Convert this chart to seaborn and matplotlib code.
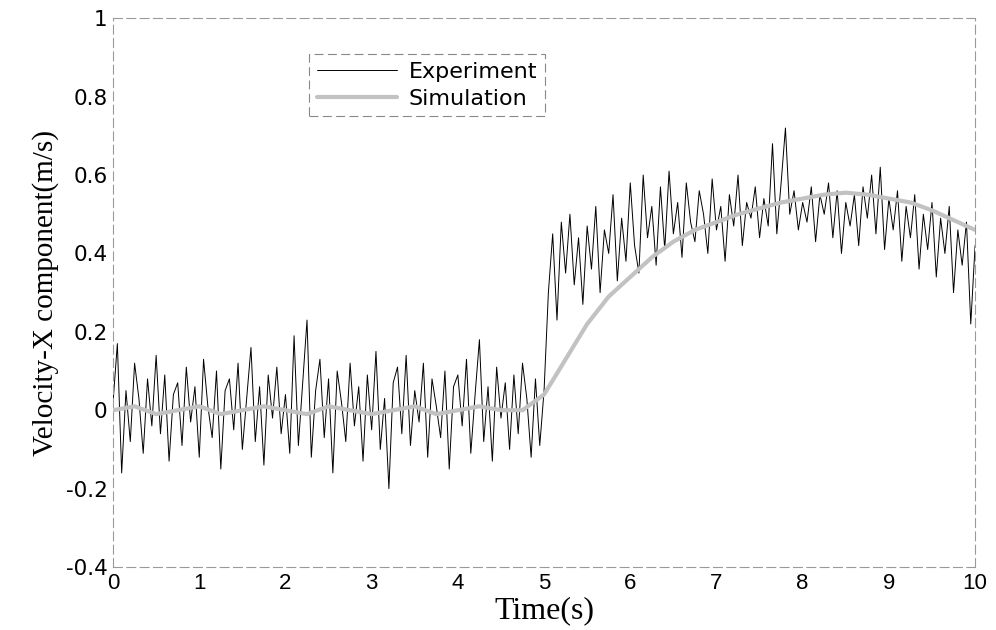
import numpy as np
import pandas as pd
import matplotlib
matplotlib.use("Agg")
from matplotlib import pyplot as plt
import seaborn as sns

# measured velocity, sampled every 0.05 s from 0 to 10 s
exp_before = [
    0.02, 0.17, -0.16, 0.05, -0.08, 0.12, 0.03, -0.11, 0.08, -0.04,
    0.14, -0.06, 0.09, -0.13, 0.04, 0.07, -0.09, 0.11, -0.03, 0.06,
    -0.12, 0.13, 0.01, -0.07, 0.10, -0.15, 0.05, 0.08, -0.05, 0.12,
    -0.10, 0.03, 0.16, -0.08, 0.06, -0.14, 0.09, -0.02, 0.11, -0.06,
    0.04, -0.11, 0.19, -0.09, 0.07, 0.23, -0.12, 0.05, 0.13, -0.07,
    0.08, -0.16, 0.10, 0.02, -0.08, 0.12, -0.04, 0.06, -0.13, 0.09,
    -0.05, 0.15, -0.10, 0.03, -0.20, 0.07, 0.11, -0.06, 0.14, -0.09,
    0.05, -0.03, 0.12, -0.12, 0.08, 0.01, -0.07, 0.10, -0.15, 0.06,
    0.09, -0.04, 0.13, -0.11, 0.04, 0.18, -0.08, 0.06, -0.13, 0.11,
    -0.02, 0.07, -0.10, 0.09, -0.06, 0.12, 0.03, -0.12, 0.08, -0.09,
]
exp_after = [
    0.05, 0.30, 0.45, 0.23, 0.48, 0.35, 0.50, 0.32, 0.44, 0.27, 0.47,
    0.36, 0.52, 0.30, 0.46, 0.40, 0.55, 0.33, 0.49, 0.38, 0.58,
    0.42, 0.35, 0.60, 0.44, 0.52, 0.37, 0.57, 0.41, 0.61, 0.45,
    0.53, 0.39, 0.58, 0.48, 0.43, 0.56, 0.50, 0.40, 0.59, 0.46,
    0.52, 0.38, 0.55, 0.47, 0.60, 0.42, 0.53, 0.49, 0.57, 0.44,
    0.54, 0.47, 0.68, 0.45, 0.58, 0.72, 0.50, 0.56, 0.46, 0.53,
    0.48, 0.57, 0.43, 0.55, 0.50, 0.58, 0.44, 0.56, 0.40, 0.53,
    0.47, 0.55, 0.42, 0.57, 0.49, 0.60, 0.45, 0.62, 0.41, 0.54,
    0.46, 0.56, 0.38, 0.52, 0.44, 0.55, 0.36, 0.50, 0.41, 0.53,
    0.34, 0.49, 0.40, 0.52, 0.30, 0.46, 0.37, 0.48, 0.22, 0.42,
]
experiment = exp_before + exp_after

# simulated velocity, every 0.25 s
simulation = [
    0.00, 0.01, -0.01, 0.00, 0.01, -0.01, 0.00, 0.01, 0.00, -0.01,
    0.01, 0.00, -0.01, 0.00, 0.01, -0.01, 0.00, 0.01, 0.00, 0.00,
    0.04, 0.13, 0.22, 0.29, 0.34, 0.39, 0.43, 0.46, 0.48, 0.50,
    0.515, 0.53, 0.54, 0.55, 0.555, 0.55, 0.54, 0.53, 0.51, 0.485,
    0.46,
]

t_exp = np.linspace(0, 10, len(experiment))
t_sim = np.linspace(0, 10, len(simulation))

df_exp = pd.DataFrame({"time": t_exp, "vel": experiment})
df_sim = pd.DataFrame({"time": t_sim, "vel": simulation})

sns.set_style("white")
plt.rcParams["font.family"] = ["DejaVu Sans"]
plt.rcParams["axes.unicode_minus"] = False
plt.rcParams["text.color"] = "black"
plt.rcParams["xtick.color"] = "black"
plt.rcParams["ytick.color"] = "black"
plt.rcParams["axes.labelcolor"] = "black"

fig = plt.figure(figsize=(9.96, 6.3), dpi=100)
ax = fig.add_axes([0.1135, 0.1, 0.8655, 0.871])

sns.lineplot(data=df_sim, x="time", y="vel", ax=ax, color="#c2c2c2",
             linewidth=3.0, label="Simulation", zorder=3)
sns.lineplot(data=df_exp, x="time", y="vel", ax=ax, color="black",
             linewidth=0.7, label="Experiment", zorder=2)

ax.set_xlim(0, 10)
ax.set_ylim(-0.4, 1)
ax.set_xticks(range(0, 11))
ax.set_yticks([-0.4, -0.2, 0, 0.2, 0.4, 0.6, 0.8, 1])
ax.set_yticklabels(["-0.4", "-0.2", "0", "0.2", "0.4", "0.6", "0.8", "1"],
                   fontsize=15.5)
ax.set_xticklabels([str(i) for i in range(0, 11)],
                   family="Liberation Sans", fontsize=16)
ax.tick_params(direction="in", length=3, color="#999999", pad=4)

ax.set_xlabel("Time(s)", family="Liberation Serif", fontsize=23, labelpad=2)
ax.set_ylabel("Velocity-X component(m/s)", family="Liberation Serif",
              fontsize=21, labelpad=5)

for sp in ax.spines.values():
    sp.set_color("#9a9a9a")
    sp.set_linewidth(0.8)
    sp.set_linestyle((0, (8, 4)))

handles, labels = ax.get_legend_handles_labels()
leg = ax.legend(handles[::-1], labels[::-1], loc="upper left",
                bbox_to_anchor=(0.215, 0.955), fontsize=16,
                handlelength=3.6, handletextpad=0.5, borderpad=0.35,
                labelspacing=0.3, fancybox=False, framealpha=1)
leg.get_frame().set_edgecolor("#888888")
leg.get_frame().set_linestyle((0, (8, 4)))
leg.get_frame().set_linewidth(0.8)

fig.savefig("out.png", dpi=100)
